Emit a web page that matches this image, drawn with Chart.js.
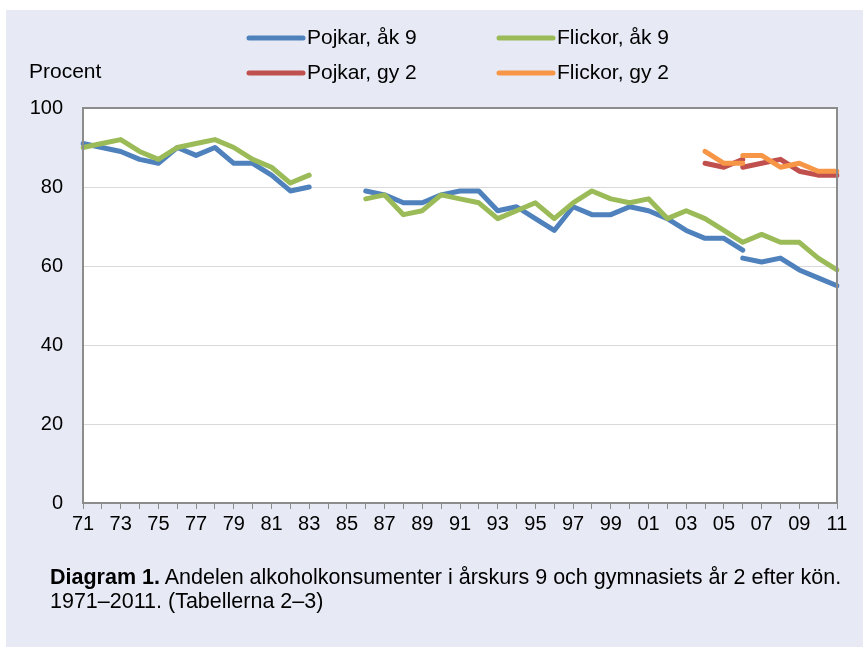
<!DOCTYPE html>
<html>
<head>
<meta charset="utf-8">
<script src="https://cdn.jsdelivr.net/npm/chart.js@4.4.1/dist/chart.umd.min.js"></script>
<style>
  html, body { margin: 0; padding: 0; background: #fff; }
  #bg { position: absolute; left: 6px; top: 10px; width: 857px; height: 637px; background: #e7eaf5; }
  #myChart { position: absolute; left: 0; top: 0; }
  .caption { position: absolute; left: 50px; top: 565px; font: 21.5px "Liberation Sans", Arial, sans-serif; line-height: 24px; color: #000; white-space: nowrap; }
</style>
</head>
<body>
<div id="bg"></div>
<canvas id="myChart" width="863" height="647"></canvas>
<div class="caption"><b>Diagram 1.</b> Andelen alkoholkonsumenter i årskurs 9 och gymnasiets år 2 efter kön.<br>1971–2011. (Tabellerna 2–3)</div>
<script>
const pad = (n) => Array(n).fill(null);

const years = [];
for (let y = 1971; y <= 2011; y++) years.push(y);

// åk 9, 1971-2011 (no survey 84-85), new method from 2006
const pojkarAk9 = [91, 90, 89, 87, 86, 90, 88, 90, 86, 86, 83, 79, 80, null, null,
  79, 78, 76, 76, 78, 79, 79, 74, 75, 72, 69, 75, 73, 73, 75, 74, 72, 69, 67, 67, 64,
  null, null, null, null, null];
const pojkarAk9Ny = [...pad(35), 62, 61, 62, 59, 57, 55];
const flickorAk9 = [90, 91, 92, 89, 87, 90, 91, 92, 90, 87, 85, 81, 83, null, null,
  77, 78, 73, 74, 78, 77, 76, 72, 74, 76, 72, 76, 79, 77, 76, 77, 72, 74, 72, 69, 66,
  68, 66, 66, 62, 59];

// gy 2, 2004-2011
const pojkarGy2 = [...pad(33), 86, 85, 87, ...pad(5)];
const pojkarGy2Ny = [...pad(35), 85, 86, 87, 84, 83, 83];
const flickorGy2 = [...pad(33), 89, 86, 86, ...pad(5)];
const flickorGy2Ny = [...pad(35), 88, 88, 85, 86, 84, 84];

const yTicks = [0, 20, 40, 60, 80, 100];

const BLUE = "#4f81bd";
const GREEN = "#9bbb59";
const RED = "#c0504d";
const ORANGE = "#f79646";
const FONT = "'Liberation Sans', Arial, sans-serif";

const legendItems = [
  { text: "Pojkar, åk 9", color: BLUE, col: 0, row: 0 },
  { text: "Flickor, åk 9", color: GREEN, col: 1, row: 0 },
  { text: "Pojkar, gy 2", color: RED, col: 0, row: 1 },
  { text: "Flickor, gy 2", color: ORANGE, col: 1, row: 1 },
];

const line = (label, data, color, order) => ({
  label: label,
  data: data,
  borderColor: color,
  backgroundColor: color,
  borderWidth: 5,
  borderCapStyle: "round",
  borderJoinStyle: "round",
  pointRadius: 0,
  tension: 0,
  spanGaps: false,
  order: order,
});

const plotFrame = {
  id: "plotFrame",
  beforeDraw(chart) {
    const a = chart.chartArea;
    const ctx = chart.ctx;
    ctx.save();
    ctx.fillStyle = "#fff";
    ctx.fillRect(a.left, a.top, a.right - a.left, a.bottom - a.top);
    ctx.restore();
  },
  afterDraw(chart) {
    const a = chart.chartArea;
    const ctx = chart.ctx;
    ctx.save();
    ctx.strokeStyle = "#8c8c8c";
    ctx.lineWidth = 2;
    ctx.strokeRect(a.left, a.top, a.right - a.left, a.bottom - a.top);

    // legend grid + axis title
    ctx.font = "21px " + FONT;
    ctx.textBaseline = "middle";
    ctx.fillStyle = "#000";
    ctx.fillText("Procent", 29, 72);
    legendItems.forEach((it) => {
      const x = 249 + it.col * 250;
      const y = 38 + it.row * 35;
      ctx.strokeStyle = it.color;
      ctx.lineWidth = 5;
      ctx.lineCap = "round";
      ctx.beginPath();
      ctx.moveTo(x, y);
      ctx.lineTo(x + 54, y);
      ctx.stroke();
      ctx.fillText(it.text, x + 58, y);
    });
    ctx.restore();
  },
};

const ctx = document.getElementById("myChart").getContext("2d");
const myChart = new Chart(ctx, {
  type: "line",
  data: {
    labels: years,
    datasets: [
      line("Pojkar, åk 9", pojkarAk9, BLUE, 4),
      line("Pojkar, åk 9 (ny)", pojkarAk9Ny, BLUE, 4),
      line("Flickor, åk 9", flickorAk9, GREEN, 3),
      line("Pojkar, gy 2", pojkarGy2, RED, 2),
      line("Pojkar, gy 2 (ny)", pojkarGy2Ny, RED, 2),
      line("Flickor, gy 2", flickorGy2, ORANGE, 1),
      line("Flickor, gy 2 (ny)", flickorGy2Ny, ORANGE, 1),
    ],
  },
  options: {
    responsive: false,
    animation: false,
    layout: { padding: { top: 108, right: 26, left: 0, bottom: 0 } },
    plugins: {
      legend: { display: false },
      tooltip: { enabled: false },
    },
    scales: {
      x: {
        type: "category",
        offset: false,
        afterFit: (s) => { s.height = 144; },
        border: { display: false },
        grid: { drawOnChartArea: false, drawTicks: true, tickLength: 6, color: "#8c8c8c", lineWidth: 1 },
        ticks: {
          autoSkip: false,
          maxRotation: 0,
          padding: 3,
          color: "#000",
          font: { family: FONT, size: 20 },
          callback: function (value, index) {
            const y = years[index];
            return y % 2 === 1 ? String(y).slice(2) : "";
          },
        },
      },
      y: {
        min: 0,
        max: 100,
        afterFit: (s) => { s.width = 83; },
        afterBuildTicks: (s) => { s.ticks = yTicks.map((v) => ({ value: v })); },
        border: { display: false },
        grid: { drawTicks: false, color: "#d9d9d9", lineWidth: 1 },
        ticks: {
          padding: 20,
          color: "#000",
          font: { family: FONT, size: 20 },
        },
      },
    },
  },
  plugins: [plotFrame],
});
</script>
</body>
</html>
